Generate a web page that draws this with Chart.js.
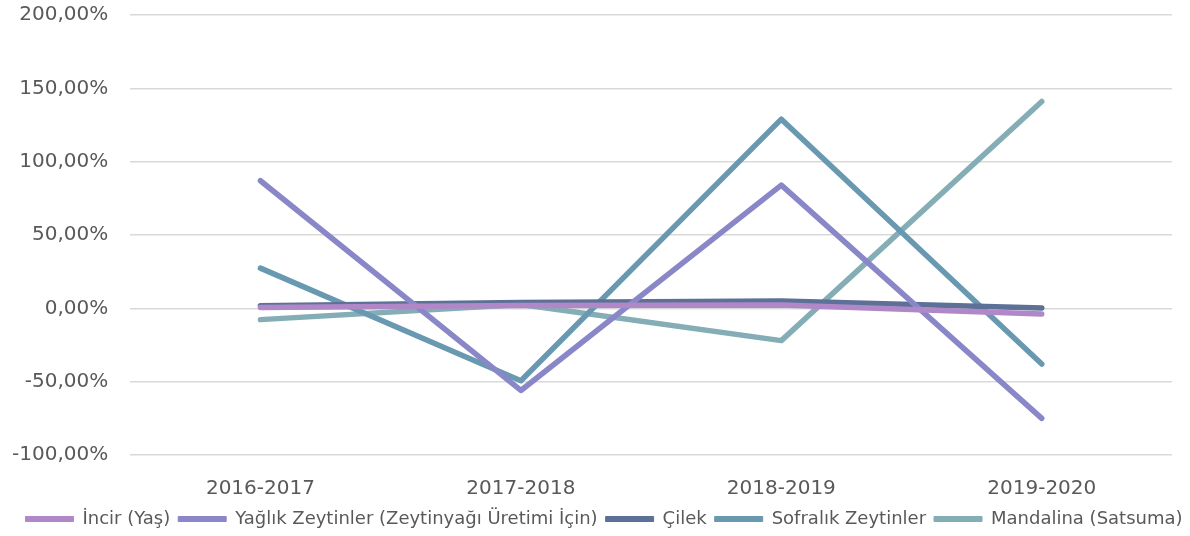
<!DOCTYPE html>
<html>
<head>
<meta charset="utf-8">
<script src="https://cdn.jsdelivr.net/npm/chart.js@4/dist/chart.umd.min.js"></script>
<style>
html,body{margin:0;padding:0;background:#fff;}
#wrap{width:1190px;height:536px;position:relative;}
</style>
</head>
<body>
<div id="wrap"><canvas id="c" width="1190" height="536"></canvas></div>
<script>
const categories = ["2016-2017", "2017-2018", "2018-2019", "2019-2020"];
const incir = [0.5, 2.0, 2.2, -3.8];
const yaglik = [87, -56, 84, -75];
const cilek = [1.8, 4.0, 5.0, 0.3];
const sofralik = [27.4, -49.4, 129, -38];
const mandalina = [-7.7, 2.6, -22, 141];
const seriesNames = ["İncir (Yaş)", "Yağlık Zeytinler (Zeytinyağı Üretimi İçin)", "Çilek", "Sofralık Zeytinler", "Mandalina (Satsuma)"];
const seriesColors = ["#b088c8", "#8a87c9", "#5c7098", "#6899b1", "#84adb5"];
const yTicks = [-100, -50, 0, 50, 100, 150, 200];

const seriesData = [incir, yaglik, cilek, sofralik, mandalina];
const FONT = "'DejaVu Sans', sans-serif";

const legendShift = {
  id: 'legendShift',
  afterLayout(chart) {
    if (chart.legend) { chart.legend.left += 23; chart.legend.right += 23; }
  }
};

new Chart(document.getElementById('c'), {
  type: 'line',
  data: {
    labels: categories,
    datasets: seriesNames.map((n, i) => ({
      label: n,
      data: seriesData[i],
      borderColor: seriesColors[i],
      backgroundColor: seriesColors[i],
      borderWidth: 5.5,
      pointRadius: 0,
      tension: 0,
      borderCapStyle: 'round',
      borderJoinStyle: 'round'
    }))
  },
  plugins: [legendShift],
  options: {
    responsive: false,
    animation: false,
    layout: { padding: { left: -10, right: 18, top: 15, bottom: -2 } },
    scales: {
      x: {
        offset: true,
        afterFit: (s) => { s.height = s.height - 13; },
        grid: { display: false },
        border: { display: false },
        ticks: { color: '#595959', font: { family: FONT, size: 20 }, padding: 14 }
      },
      y: {
        min: -100, max: 200,
        afterBuildTicks: (ax) => { ax.ticks = yTicks.map(v => ({ value: v })); },
        afterFit: (s) => { s.paddingTop = 0; s.paddingBottom = 0; },
        grid: { color: '#d9d9d9', lineWidth: 1.5, drawTicks: false },
        border: { display: false },
        ticks: {
          color: '#595959',
          font: { family: FONT, size: 20 },
          padding: 22,
          callback: (v) => v.toFixed(2).replace('.', ',') + '%'
        }
      }
    },
    plugins: {
      legend: {
        position: 'bottom',
        labels: {
          color: '#595959',
          font: { family: FONT, size: 18 },
          boxWidth: 48,
          boxHeight: 5,
          padding: 8,
          generateLabels: (chart) => chart.data.datasets.map((d, i) => ({
            text: d.label, fillStyle: d.borderColor, strokeStyle: d.borderColor,
            lineWidth: 1, hidden: false, datasetIndex: i, fontColor: '#595959'
          }))
        }
      },
      tooltip: { enabled: false }
    }
  }
});
</script>
</body>
</html>
